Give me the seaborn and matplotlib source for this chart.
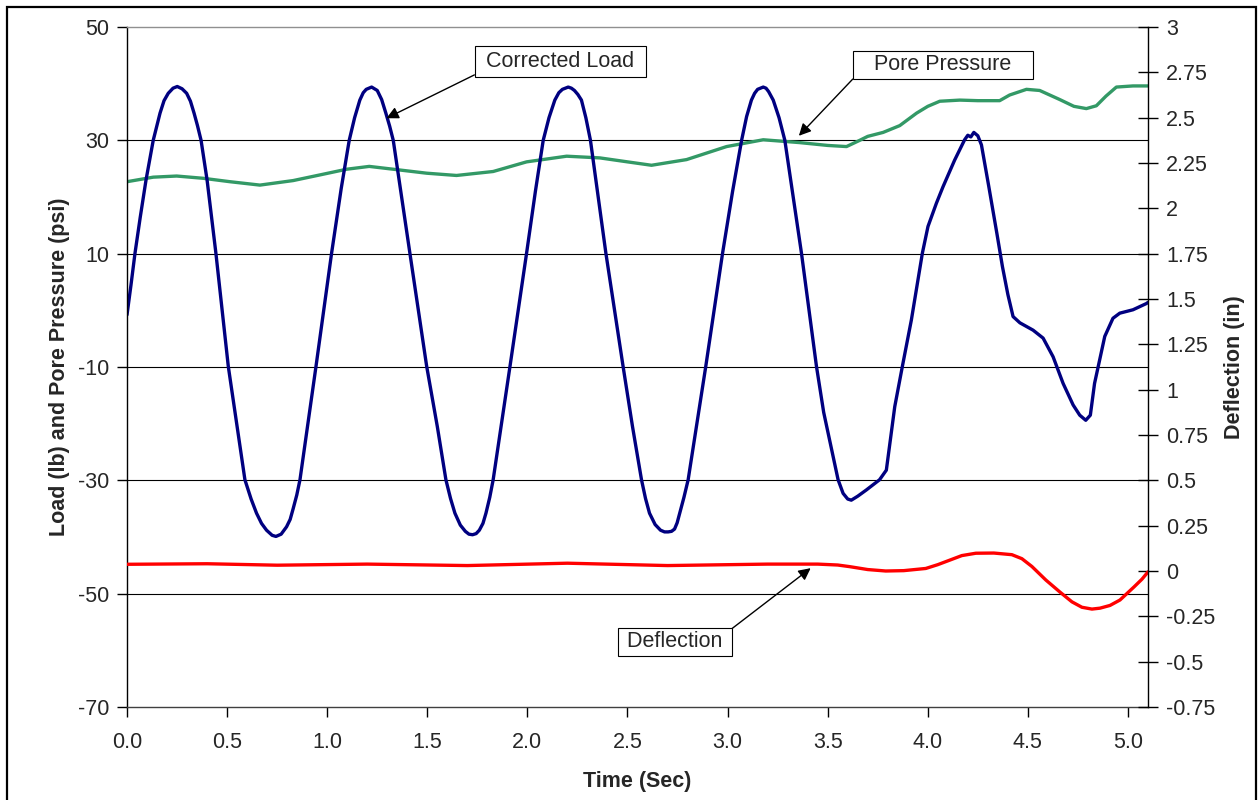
import numpy as np
import pandas as pd
import matplotlib.pyplot as plt
from matplotlib.patches import Rectangle
import seaborn as sns

# corrected load (lb)
time_load = [0.000, 0.020, 0.040, 0.066, 0.095, 0.131, 0.165, 0.185, 0.206, 0.230, 0.251, 0.275,
             0.298, 0.317, 0.335, 0.352, 0.370, 0.400, 0.444, 0.506, 0.550, 0.589, 0.620, 0.647,
             0.672, 0.697, 0.725, 0.744, 0.770, 0.797, 0.815, 0.830, 0.848, 0.864, 0.944, 1.022,
             1.070, 1.110, 1.137, 1.163, 1.180, 1.195, 1.222, 1.250, 1.272, 1.293, 1.312, 1.330,
             1.413, 1.497, 1.550, 1.593, 1.616, 1.638, 1.665, 1.690, 1.708, 1.726, 1.744, 1.760,
             1.778, 1.793, 1.812, 1.829, 1.913, 1.996, 2.040, 2.079, 2.108, 2.137, 2.157, 2.175,
             2.204, 2.220, 2.235, 2.252, 2.270, 2.292, 2.315, 2.392, 2.478, 2.525, 2.570, 2.590,
             2.610, 2.638, 2.665, 2.685, 2.703, 2.720, 2.735, 2.748, 2.761, 2.782, 2.803, 2.891,
             2.975, 3.025, 3.070, 3.095, 3.119, 3.135, 3.150, 3.178, 3.192, 3.205, 3.228, 3.257,
             3.286, 3.369, 3.444, 3.480, 3.552, 3.577, 3.600, 3.618, 3.650, 3.693, 3.759, 3.793,
             3.835, 3.873, 3.918, 3.973, 4.001, 4.043, 4.076, 4.134, 4.184, 4.200, 4.215, 4.230,
             4.250, 4.268, 4.305, 4.345, 4.373, 4.400, 4.426, 4.460, 4.526, 4.576, 4.626, 4.676,
             4.726, 4.759, 4.789, 4.812, 4.833, 4.858, 4.884, 4.925, 4.959, 5.025, 5.092, 5.100]
load_lb = [-0.8, 4.5, 10.1, 16.4, 23.0, 30.0, 34.8, 37.0, 38.3, 39.2, 39.5, 39.1,
           38.3, 36.9, 34.8, 32.6, 30.0, 23.0, 10.1, -9.9, -20.5, -29.9, -33.3, -35.8,
           -37.6, -38.8, -39.7, -39.9, -39.5, -38.2, -36.9, -35.0, -32.6, -29.9, -9.9, 10.1,
           21.5, 30.0, 34.0, 37.1, 38.4, 39.0, 39.4, 38.8, 37.2, 34.8, 32.5, 30.0,
           10.1, -9.9, -20.5, -29.9, -33.2, -35.8, -37.9, -39.0, -39.5, -39.6, -39.4, -38.8,
           -37.6, -35.8, -33.0, -29.9, -9.9, 10.1, 21.0, 30.0, 34.0, 37.1, 38.4, 39.0,
           39.4, 39.2, 38.8, 38.1, 37.1, 34.0, 30.0, 10.1, -9.9, -20.5, -29.9, -33.2,
           -35.8, -37.8, -38.8, -39.1, -39.1, -39.0, -38.6, -37.5, -35.8, -33.0, -29.9, -9.9,
           10.1, 21.0, 30.0, 34.2, 37.1, 38.3, 39.0, 39.4, 39.2, 38.6, 37.1, 34.0,
           30.0, 10.1, -9.9, -18.0, -29.9, -32.3, -33.3, -33.5, -32.8, -31.7, -29.9, -28.2,
           -17.0, -9.9, -1.7, 10.1, 14.8, 18.9, 21.8, 26.5, 30.1, 30.9, 30.6, 31.4,
           30.8, 29.2, 21.8, 13.6, 7.7, 2.8, -1.1, -2.2, -3.5, -4.9, -8.2, -12.9,
           -16.7, -18.5, -19.4, -18.5, -12.9, -8.8, -4.6, -1.4, -0.5, 0.1, 1.2, 1.4]

# pore pressure (psi)
time_pore = [0.000, 0.131, 0.248, 0.381, 0.514, 0.664, 0.830, 0.964, 1.097, 1.210, 1.330, 1.497,
             1.646, 1.829, 1.996, 2.196, 2.362, 2.500, 2.620, 2.795, 2.995, 3.178, 3.360, 3.500,
             3.594, 3.660, 3.700, 3.777, 3.860, 3.944, 4.000, 4.060, 4.160, 4.250, 4.359, 4.409,
             4.493, 4.559, 4.659, 4.730, 4.792, 4.842, 4.890, 4.942, 5.025, 5.100]
pore_psi = [22.7, 23.5, 23.7, 23.3, 22.7, 22.1, 22.9, 23.9, 24.9, 25.4, 24.9, 24.2,
            23.8, 24.5, 26.2, 27.2, 26.9, 26.2, 25.6, 26.6, 28.9, 30.1, 29.6, 29.1,
            28.9, 30.0, 30.7, 31.4, 32.6, 34.8, 36.0, 36.9, 37.1, 37.0, 37.0, 38.0,
            39.0, 38.8, 37.2, 36.0, 35.6, 36.1, 37.8, 39.4, 39.6, 39.6]

# deflection (in)
time_defl = [0.00, 0.40, 0.75, 1.20, 1.70, 2.20, 2.70, 3.20, 3.45, 3.55, 3.61, 3.70,
             3.79, 3.88, 3.99, 4.05, 4.11, 4.17, 4.24, 4.33, 4.42, 4.47, 4.52, 4.59,
             4.66, 4.72, 4.77, 4.82, 4.86, 4.91, 4.96, 5.03, 5.07, 5.10]
deflection_in = [0.037, 0.040, 0.032, 0.038, 0.030, 0.043, 0.030, 0.038, 0.038, 0.033, 0.024, 0.008,
                 0.000, 0.002, 0.014, 0.035, 0.060, 0.085, 0.098, 0.099, 0.090, 0.068, 0.025, -0.050,
                 -0.116, -0.170, -0.200, -0.210, -0.205, -0.190, -0.160, -0.088, -0.045, -0.005]

x_ticks = [0.0, 0.5, 1.0, 1.5, 2.0, 2.5, 3.0, 3.5, 4.0, 4.5, 5.0]
x_labels = ["0.0", "0.5", "1.0", "1.5", "2.0", "2.5", "3.0", "3.5", "4.0", "4.5", "5.0"]
left_ticks = [-70, -50, -30, -10, 10, 30, 50]
right_ticks = [-0.75, -0.5, -0.25, 0, 0.25, 0.5, 0.75, 1, 1.25, 1.5, 1.75, 2, 2.25, 2.5, 2.75, 3]
right_labels = ["-0.75", "-0.5", "-0.25", "0", "0.25", "0.5", "0.75", "1", "1.25", "1.5",
                "1.75", "2", "2.25", "2.5", "2.75", "3"]

load_df = pd.DataFrame({"time": time_load, "load": load_lb})
pore_df = pd.DataFrame({"time": time_pore, "pore": pore_psi})
defl_df = pd.DataFrame({"time": time_defl, "defl": deflection_in})

sns.set_style("white")
plt.rcParams['font.family'] = ['Liberation Sans', 'DejaVu Sans']
fs = 15.5

fig = plt.figure(figsize=(12.59, 8.0), dpi=100)
ax = fig.add_axes([127 / 1259, 1 - 707 / 800, (1148 - 127) / 1259, 680 / 800])
ax2 = ax.twinx()

sns.lineplot(data=pore_df, x="time", y="pore", ax=ax, color="#339966", linewidth=2.4)
sns.lineplot(data=load_df, x="time", y="load", ax=ax, color="#000080", linewidth=2.4)
sns.lineplot(data=defl_df, x="time", y="defl", ax=ax2, color="#FF0000", linewidth=2.4)

ax.set_xlim(0, 5.1)
ax.set_ylim(-70, 50)
ax2.set_ylim(-0.75, 3)

ax.set_xticks(x_ticks)
ax.set_xticklabels(x_labels, fontsize=fs)
ax.set_yticks(left_ticks)
ax.set_yticklabels([str(v) for v in left_ticks], fontsize=fs)
ax2.set_yticks(right_ticks)
ax2.set_yticklabels(right_labels, fontsize=fs)

ax.tick_params(axis='x', direction='out', length=7, width=1, color='black', pad=11, bottom=True)
ax.tick_params(axis='y', direction='out', length=7, width=1, color='black', pad=6, left=True)
ax2.tick_params(axis='y', direction='inout', length=14, width=1, color='black', pad=6, right=True)

ax.grid(axis='y', color='black', linewidth=0.8)
ax.grid(axis='x', visible=False)
grid_lines = ax.get_ygridlines()
grid_lines[-1].set_visible(False)
grid_lines[0].set_visible(False)

for name, sp in ax.spines.items():
    sp.set_linewidth(1)
ax.spines['left'].set_color('black')
ax.spines['bottom'].set_color('#404040')
ax.spines['top'].set_color('#909090')
ax.spines['right'].set_visible(False)
for name in ['left', 'top', 'bottom']:
    ax2.spines[name].set_visible(False)
ax2.spines['right'].set_color('black')
ax2.spines['right'].set_linewidth(1)

ax.set_xlabel("Time (Sec)", fontsize=fs, fontweight='bold')
ax.set_ylabel("Load (lb) and Pore Pressure (psi)", fontsize=fs, fontweight='bold')
ax2.set_ylabel("Deflection (in)", fontsize=fs, fontweight='bold')
ax.xaxis.set_label_coords(0.5, -0.094)
ax.yaxis.set_label_coords(-0.056, 0.5)
ax2.yaxis.set_label_coords(1.074, 0.5)


def arrow(rel):
    return dict(arrowstyle='-|>', color='black', lw=1, mutation_scale=18,
                shrinkA=0, shrinkB=0, relpos=rel)


ax.annotate(" Corrected Load ", xy=(1.296, 33.9), xytext=(2.164, 43.9), fontsize=fs,
            ha='center', va='center',
            bbox=dict(boxstyle='square,pad=0.25', fc='white', ec='black', lw=0.8),
            arrowprops=arrow((0, 0)))
ax.annotate("   Pore Pressure   ", xy=(3.356, 30.8), xytext=(4.075, 43.3), fontsize=fs,
            ha='center', va='center',
            bbox=dict(boxstyle='square,pad=0.15', fc='white', ec='black', lw=0.8),
            arrowprops=arrow((0, 0)))
ax.annotate(" Deflection ", xy=(3.415, -45.5), xytext=(2.736, -58.5), fontsize=fs,
            ha='center', va='center',
            bbox=dict(boxstyle='square,pad=0.15', fc='white', ec='black', lw=0.8),
            arrowprops=arrow((1, 1)))

# outer chart border
fig.add_artist(Rectangle((7 / 1259, -0.01), (1256 - 7) / 1259, 1.00125, transform=fig.transFigure,
                         fill=False, ec='black', lw=1.6))

fig.savefig("out.png", dpi=100)
